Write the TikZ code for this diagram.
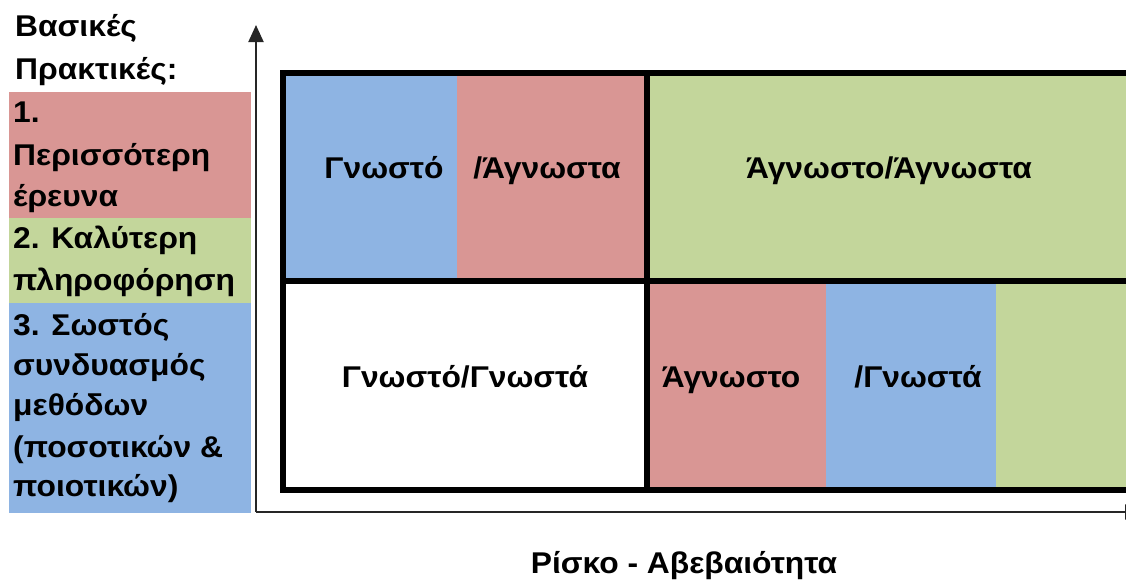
\documentclass[tikz,border=0pt]{standalone}
\usepackage{fontspec}
\usepackage{graphicx}
\setmainfont{Liberation Sans}
\usetikzlibrary{arrows.meta}
\definecolor{cellblue}{HTML}{8EB4E3}
\definecolor{cellred}{HTML}{D99694}
\definecolor{cellgreen}{HTML}{C3D69B}
% slightly widened bold lettering
\newcommand{\wideword}[1]{\scalebox{1.06}[1]{#1}}
\tikzset{
  lefttext/.style={anchor=base west, inner sep=0pt, font=\fontsize{30}{36}\selectfont\bfseries},
  celltext/.style={anchor=base, inner sep=0pt, font=\fontsize{30}{36}\selectfont\bfseries},
  axislabel/.style={anchor=base, inner sep=0pt, font=\fontsize{30}{36}\selectfont\bfseries},
  frameline/.style={line width=6pt, black},
  axisline/.style={line width=2pt, black!85, -{Triangle[length=17pt,width=15pt]}},
}
\begin{document}
\begin{tikzpicture}[x=1pt,y=-1pt]
\useasboundingbox (0,0) rectangle (1126,579);

% practice boxes on the left
\fill[cellred]   (9,92)  rectangle (251,218);
\fill[cellgreen] (9,218) rectangle (251,303);
\fill[cellblue]  (9,303) rectangle (251,513);

\node[lefttext] (h1) at (15,36) {\wideword{Βασικές}};
\node[lefttext] (h2) at (15,79) {\wideword{Πρακτικές:}};
\node[lefttext] (p1a) at (13,122) {\wideword{1.}};
\node[lefttext] (p1b) at (13,165) {\wideword{Περισσότερη}};
\node[lefttext] (p1c) at (13,206) {\wideword{έρευνα}};
\node[lefttext] (p2a) at (13,248) {\wideword{2. Καλύτερη}};
\node[lefttext] (p2b) at (13,290) {\wideword{πληροφόρηση}};
\node[lefttext] (p3a) at (13,335) {\wideword{3. Σωστός}};
\node[lefttext] (p3b) at (13,375) {\wideword{συνδυασμός}};
\node[lefttext] (p3c) at (13,415) {\wideword{μεθόδων}};
\node[lefttext] (p3d) at (13,457) {\wideword{(ποσοτικών \&}};
\node[lefttext] (p3e) at (13,496) {\wideword{ποιοτικών)}};

% cell fills of the grid
\fill[cellblue]  (283,73)  rectangle (457,281);
\fill[cellred]   (457,73)  rectangle (647,281);
\fill[cellgreen] (647,73)  rectangle (1140,281);
\fill[cellred]   (647,281) rectangle (826,490);
\fill[cellblue]  (826,281) rectangle (996,490);
\fill[cellgreen] (996,281) rectangle (1140,490);

% grid lines
\draw[frameline] (1140,73) -- (283,73) -- (283,490) -- (1140,490);
\draw[frameline] (283,281) -- (1140,281);
\draw[frameline] (647,73) -- (647,490);

% axes
\coordinate (origin) at (256,512);
\coordinate (ytop) at (256,25);
\coordinate (xend) at (1142,512);
\draw[axisline] (origin) -- (ytop);
\draw[axisline] (origin) -- (xend);

% cell labels
\node[celltext] (c1) at (384,178) {\wideword{Γνωστό}};
\node[celltext] (c2) at (547,178) {\wideword{/Άγνωστα}};
\node[celltext] (c3) at (889,178) {\wideword{Άγνωστο/Άγνωστα}};
\node[celltext] (c4) at (465,387) {\wideword{Γνωστό/Γνωστά}};
\node[celltext] (c5) at (731,387) {\wideword{Άγνωστο}};
\node[celltext] (c6) at (918,387) {\wideword{/Γνωστά}};

\node[axislabel] (xl) at (684,573) {\wideword{Ρίσκο - Αβεβαιότητα}};
\end{tikzpicture}
\end{document}
